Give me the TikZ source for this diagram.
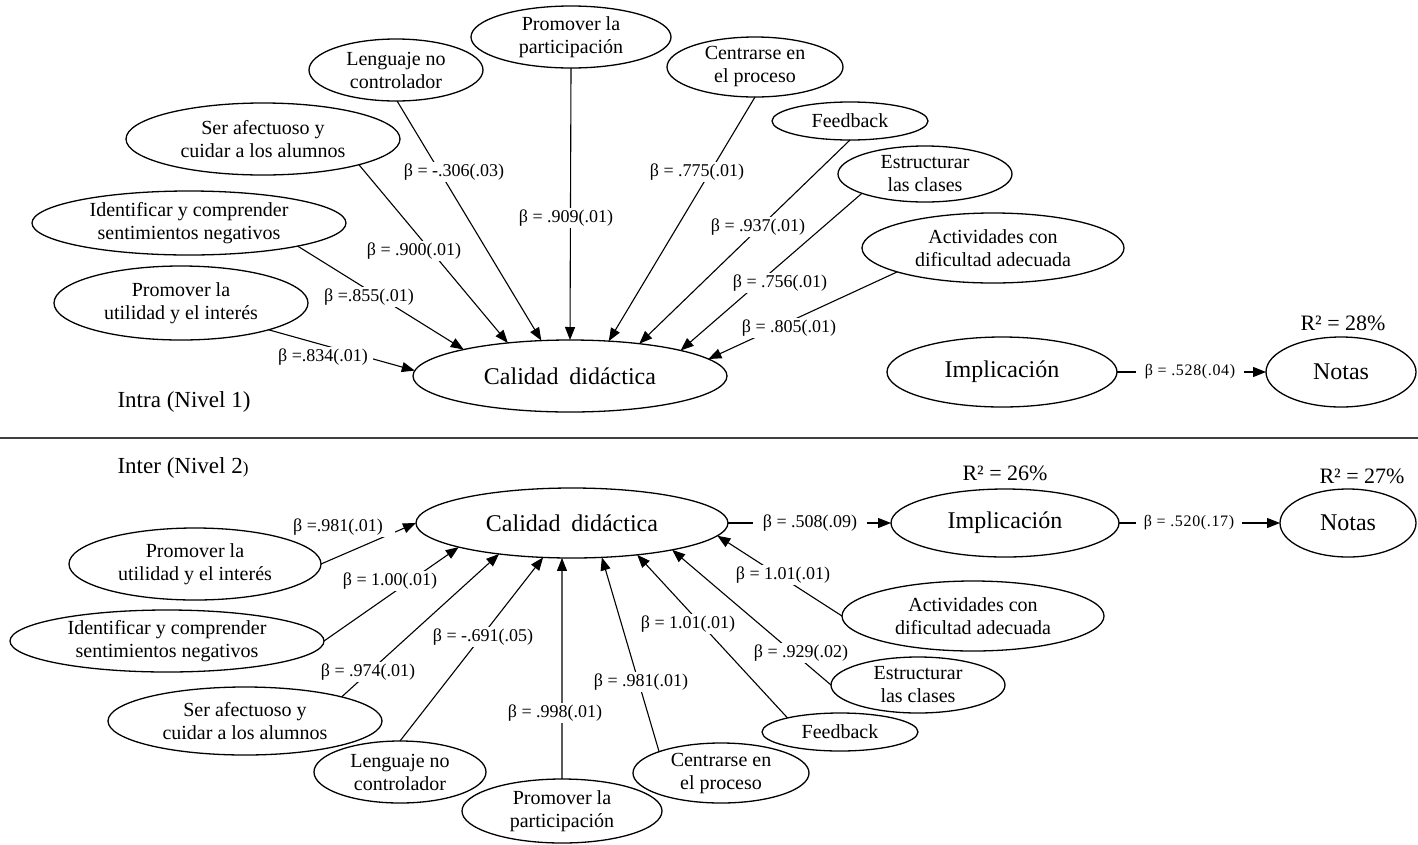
\documentclass[tikz,border=0pt]{standalone}
\usepackage{fontspec}
\setmainfont{Liberation Serif}
\usetikzlibrary{shapes.geometric,arrows.meta}

\tikzset{
  var/.style={ellipse, draw, line width=1.3pt, inner sep=0pt, outer sep=0pt,
    align=center, font=\fontsize{20}{23}\selectfont},
  bigvar/.style={var, font=\fontsize{24}{27}\selectfont},
  reg/.style={draw, line width=1.1pt, -{Triangle[length=13pt,width=10pt]}},
  coef/.style={fill=white, inner xsep=5pt, inner ysep=2pt,
    font=\fontsize{18}{20}\selectfont},
  coefs/.style={coef, font=\fontsize{16}{18}\selectfont\addfontfeature{LetterSpace=4}},
  title/.style={font=\fontsize{23}{26}\selectfont},
  rsq/.style={font=\fontsize{22}{24}\selectfont},
  divider/.style={draw=black!75, line width=1.6pt}
}

\begin{document}
\begin{tikzpicture}[x=1pt,y=-1pt]
\useasboundingbox (0,0) rectangle (1418,844);

% ---------------- Level 1 (within) ----------------
\node[bigvar, minimum width=314, minimum height=72] (tCal) at (570,376) {Calidad\hspace{0.45em}didáctica};
\node[var, minimum width=174, minimum height=62] (tLen) at (396,70) {Lenguaje no\\controlador};
\node[var, minimum width=274, minimum height=72] (tSer) at (263,139) {Ser afectuoso y\\cuidar a los alumnos};
\node[var, minimum width=314, minimum height=64] (tIde) at (189,223) {Identificar y comprender\\sentimientos negativos};
\node[var, minimum width=254, minimum height=74] (tUti) at (181,303) {Promover la\\utilidad y el interés};
\node[var, minimum width=200, minimum height=62] (tPar) at (571,37) {Promover la\\participación};
\node[var, minimum width=176, minimum height=60] (tCen) at (755,67) {Centrarse en\\el proceso};
\node[var, minimum width=156, minimum height=38] (tFee) at (850,121) {Feedback};
\node[var, minimum width=174, minimum height=56] (tEst) at (925,174) {Estructurar\\las clases};
\node[var, minimum width=262, minimum height=70] (tAct) at (993,248) {Actividades con\\dificultad adecuada};
\node[bigvar, minimum width=230, minimum height=70] (tImp) at (1002,372) {Implicación};
\node[bigvar, minimum width=150, minimum height=70] (tNot) at (1341,372) {Notas};
\node[rsq] (tR) at (1343,323) {R² = 28\%};
\node[title] (tTitle) at (184,402) {Intra (Nivel 1)};

\draw[reg] (tUti.343) -- (tCal.178.5);
\draw[reg] (tIde.348) -- (tCal.166.4);
\draw[reg] (tSer.345.3) -- (tCal.152);
\draw[reg] (tLen.272) -- (tCal.129.8);
\draw[reg] (tPar.270) -- (tCal.90);
\draw[reg] (tCen.270) -- (tCal.42);
\draw[reg] (tFee.270) -- (tCal.25.9);
\draw[reg] (tEst.197) -- (tCal.13.9);
\draw[reg] (tAct.194.2) -- (tCal.7);
\draw[reg] (tImp.east) -- (tNot.west);

\node[coef] (ta) at (323,357) {β =.834(.01)};
\node[coef] (tb) at (369,297) {β =.855(.01)};
\node[coef] (tc) at (414,251) {β = .900(.01)};
\node[coef] (td) at (454,172) {β = -.306(.03)};
\node[coef] (te) at (566,218) {β = .909(.01)};
\node[coef] (tf) at (697,172) {β = .775(.01)};
\node[coef] (tg) at (758,227) {β = .937(.01)};
\node[coef] (th) at (780,283) {β = .756(.01)};
\node[coef] (ti) at (789,328) {β = .805(.01)};
\node[coefs, inner xsep=9pt] (tj) at (1190,372) {β = .528(.04)};

% separator between the two levels
\draw[divider] (0,438) -- (1418,438);

% ---------------- Level 2 (between) ----------------
\node[title] (bTitle) at (183,468) {Inter (Nivel 2{\fontsize{17}{17}\selectfont )}};
\node[bigvar, minimum width=312, minimum height=70] (bCal) at (572,523) {Calidad\hspace{0.45em}didáctica};
\node[var, minimum width=252, minimum height=72] (bUti) at (195,564) {Promover la\\utilidad y el interés};
\node[var, minimum width=314, minimum height=62] (bIde) at (167,641) {Identificar y comprender\\sentimientos negativos};
\node[var, minimum width=274, minimum height=68] (bSer) at (245,721) {Ser afectuoso y\\cuidar a los alumnos};
\node[var, minimum width=172, minimum height=62] (bLen) at (400,772) {Lenguaje no\\controlador};
\node[var, minimum width=200, minimum height=64] (bPar) at (562,811) {Promover la\\participación};
\node[var, minimum width=176, minimum height=60] (bCen) at (721,773) {Centrarse en\\el proceso};
\node[var, minimum width=156, minimum height=38] (bFee) at (840,732) {Feedback};
\node[var, minimum width=174, minimum height=56] (bEst) at (918,685) {Estructurar\\las clases};
\node[var, minimum width=262, minimum height=70] (bAct) at (973,616) {Actividades con\\dificultad adecuada};
\node[bigvar, minimum width=228, minimum height=68] (bImp) at (1005,523) {Implicación};
\node[bigvar, minimum width=136, minimum height=68] (bNot) at (1348,523) {Notas};
\node[rsq] (bR1) at (1005,473) {R² = 26\%};
\node[rsq] (bR2) at (1362,476) {R² = 27\%};

\draw[reg] (bUti.0) -- (bCal.180);
\draw[reg] (bIde.0) -- (bCal.192.6);
\draw[reg] (bSer.14.9) -- (bCal.203.1);
\draw[reg] (bLen.90) -- (bCal.230.6);
\draw[reg] (bPar.90) -- (bCal.254);
\draw[reg] (bCen.161.6) -- (bCal.311.5);
\draw[reg] (bFee.165.7) -- (bCal.334.4);
\draw[reg] (bEst.180) -- (bCal.345.7);
\draw[reg] (bAct.180) -- (bCal.355);
\draw[reg] (bCal.east) -- (bImp.west);
\draw[reg] (bImp.east) -- (bNot.west);

\node[coef, inner xsep=12pt] (ba) at (338,527) {β =.981(.01)};
\node[coef] (bb) at (390,581) {β = 1.00(.01)};
\node[coef] (bc) at (368,672) {β = .974(.01)};
\node[coef] (bd) at (483,637) {β = -.691(.05)};
\node[coef] (be) at (555,713) {β = .998(.01)};
\node[coef] (bf) at (641,682) {β = .981(.01)};
\node[coef] (bg) at (688,624) {β = 1.01(.01)};
\node[coef] (bh) at (801,653) {β = .929(.02)};
\node[coef] (bi) at (783,575) {β = 1.01(.01)};
\node[coef, inner xsep=10pt] (bj) at (810,523) {β = .508(.09)};
\node[coefs, inner xsep=8pt] (bk) at (1189,523) {β = .520(.17)};
\end{tikzpicture}
\end{document}
